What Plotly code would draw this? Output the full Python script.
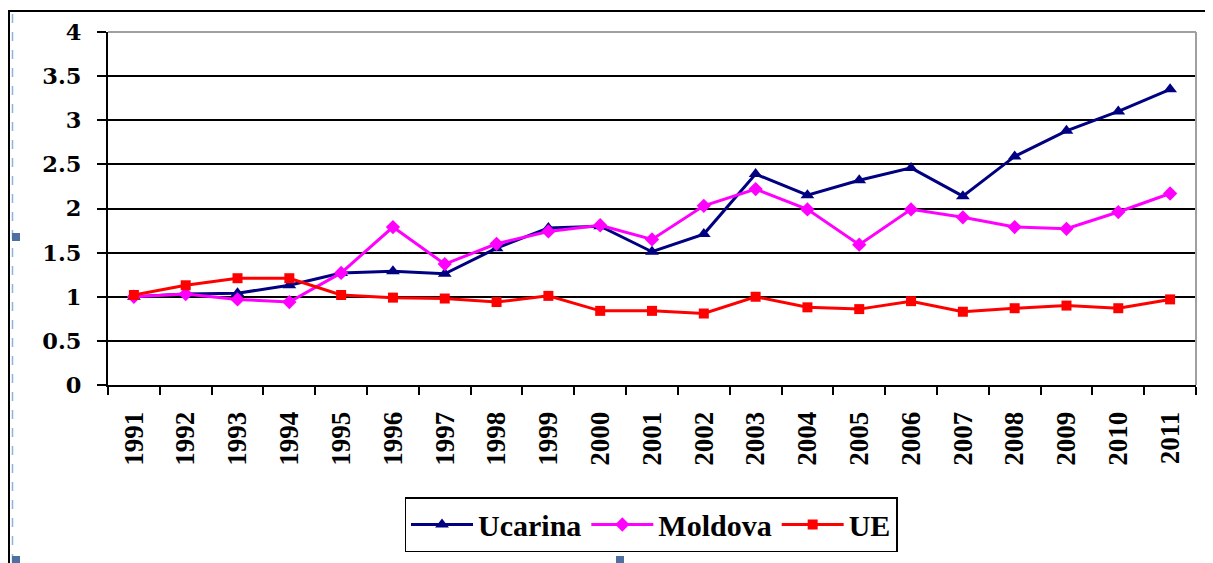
import plotly.graph_objects as go

years = [str(y) for y in range(1991, 2012)]
ucarina = [1.00, 1.03, 1.04, 1.13, 1.27, 1.29, 1.26, 1.55, 1.78, 1.80, 1.51, 1.71,
           2.39, 2.15, 2.32, 2.46, 2.14, 2.59, 2.88, 3.10, 3.35]
moldova = [1.00, 1.03, 0.97, 0.94, 1.27, 1.79, 1.37, 1.60, 1.74, 1.81, 1.65, 2.03,
           2.22, 1.99, 1.59, 1.99, 1.90, 1.79, 1.77, 1.96, 2.17]
ue = [1.02, 1.13, 1.21, 1.21, 1.02, 0.99, 0.98, 0.94, 1.01, 0.84, 0.84, 0.81,
      1.00, 0.88, 0.86, 0.95, 0.83, 0.87, 0.90, 0.87, 0.97]
y_ticks = [0, 0.5, 1, 1.5, 2, 2.5, 3, 3.5, 4]

# the page body has an 8px margin: figure origin sits at (8, 8) in the window
OFF = 8
W, H = 1213 - OFF, 563 - OFF
L, R, T, B = 108 - OFF, 1196 - OFF, 32 - OFF, 385 - OFF
FONT = "Liberation Serif"


def px_x(p):
    return (p - OFF - L) / (R - L)


def px_y(p):
    return (B - (p - OFF)) / (B - T)


fig = go.Figure()
fig.add_trace(go.Scatter(x=years, y=ucarina, name="Ucarina", mode="lines+markers",
                         line=dict(color="#000080", width=3),
                         marker=dict(symbol="triangle-up", size=12, color="#000080")))
fig.add_trace(go.Scatter(x=years, y=moldova, name="Moldova", mode="lines+markers",
                         line=dict(color="#FF00FF", width=3),
                         marker=dict(symbol="diamond", size=11, color="#FF00FF")))
fig.add_trace(go.Scatter(x=years, y=ue, name="UE", mode="lines+markers",
                         line=dict(color="#FF0000", width=3),
                         marker=dict(symbol="square", size=10, color="#FF0000")))

shapes = [
    # plot area top & right border (gray)
    dict(type="line", xref="paper", yref="paper", x0=0, x1=1, y0=1, y1=1,
         line=dict(color="#A0A0A0", width=2), layer="above"),
    dict(type="line", xref="paper", yref="paper", x0=1, x1=1, y0=0, y1=1,
         line=dict(color="#A0A0A0", width=2), layer="above"),
    # outer frame
    dict(type="line", xref="paper", yref="paper", x0=px_x(8), x1=px_x(1213),
         y0=px_y(11), y1=px_y(11), line=dict(color="black", width=2)),
    dict(type="line", xref="paper", yref="paper", x0=px_x(9), x1=px_x(9),
         y0=px_y(11), y1=px_y(563), line=dict(color="black", width=2)),
    dict(type="line", xref="paper", yref="paper", x0=px_x(12.5), x1=px_x(12.5),
         y0=px_y(14), y1=px_y(563), line=dict(color="#8DB3E2", width=1.5, dash="dash")),
]
for (cx, cy) in [(16, 237), (16, 560), (620, 560)]:
    shapes.append(dict(type="rect", xref="paper", yref="paper",
                       x0=px_x(cx - 4), x1=px_x(cx + 4), y0=px_y(cy - 4), y1=px_y(cy + 4),
                       fillcolor="#4F6FA0", line=dict(width=0)))

fig.update_layout(
    width=W, height=H,
    margin=dict(l=L, r=W - R, t=T, b=H - B, pad=0, autoexpand=False),
    paper_bgcolor="white", plot_bgcolor="white",
    font=dict(family=FONT, size=20, color="black"),
    showlegend=True,
    legend=dict(orientation="h", x=px_x(651), xanchor="center", y=px_y(497), yanchor="top",
                bordercolor="black", borderwidth=1.5, bgcolor="white",
                font=dict(family=FONT, size=30, color="black", weight="bold"),
                itemwidth=62, tracegroupgap=0),
    shapes=shapes,
)
fig.update_xaxes(type="category", categoryorder="array", categoryarray=years,
                 range=[-0.5, len(years) - 0.5],
                 tickson="boundaries", ticks="outside", ticklen=8, tickwidth=2, tickcolor="black",
                 showline=True, linecolor="black", linewidth=2, showgrid=False,
                 tickangle=-90, ticklabelstandoff=14,
                 tickfont=dict(family=FONT, size=27, color="black", weight="bold"),
                 zeroline=False)
fig.update_yaxes(range=[0, 4], tickvals=y_ticks, ticktext=[f"{v:g}" for v in y_ticks],
                 ticks="outside", ticklen=9, tickwidth=2, tickcolor="black",
                 showline=True, linecolor="black", linewidth=2,
                 showgrid=True, gridcolor="black", gridwidth=1.5, zeroline=False,
                 ticklabelstandoff=11,
                 tickfont=dict(family="DejaVu Serif", size=22.5, color="black", weight="bold"))

fig.write_html("out.html")
